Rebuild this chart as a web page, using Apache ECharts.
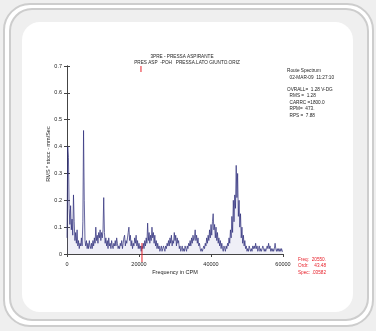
<!DOCTYPE html>
<html>
<head>
<meta charset="utf-8">
<script src="https://cdn.jsdelivr.net/npm/echarts@6/dist/echarts.min.js"></script>
<style>
html,body{margin:0;padding:0;background:#efefef;}
#c{width:376px;height:331px;}
</style>
</head>
<body>
<div id="c"></div>
<script>
// ---- data ----
var freqStep = 200; // CPM between spectral lines
var amplitudes = [
  0.06,0.40,0.36,0.17,0.11,0.18,0.09,0.13,0.07,0.22,0.12,0.05,0.08,0.04,0.09,0.03,0.05,0.02,0.04,0.03,
  0.06,0.03,0.12,0.46,0.20,0.05,0.03,0.05,0.02,0.04,0.02,0.05,0.03,0.02,0.04,0.02,0.05,0.03,0.06,0.04,
  0.10,0.05,0.07,0.04,0.08,0.06,0.09,0.05,0.08,0.06,0.09,0.21,0.08,0.04,0.06,0.03,0.05,0.02,0.06,0.03,
  0.04,0.02,0.05,0.03,0.02,0.04,0.03,0.05,0.03,0.06,0.04,0.02,0.03,0.02,0.04,0.03,0.05,0.02,0.04,0.06,
  0.07,0.03,0.05,0.04,0.06,0.08,0.10,0.05,0.07,0.03,0.05,0.02,0.04,0.03,0.06,0.04,0.07,0.03,0.05,0.02,
  0.04,0.02,0.03,0.01,0.03,0.02,0.04,0.02,0.05,0.03,0.06,0.04,0.115,0.05,0.08,0.04,0.07,0.05,0.10,0.06,
  0.08,0.04,0.07,0.03,0.05,0.02,0.04,0.02,0.03,0.01,0.02,0.03,0.01,0.02,0.03,0.02,0.01,0.03,0.02,0.04,
  0.03,0.05,0.03,0.06,0.04,0.07,0.03,0.05,0.04,0.08,0.05,0.07,0.03,0.06,0.04,0.05,0.02,0.03,0.01,0.02,
  0.03,0.01,0.02,0.01,0.03,0.02,0.01,0.03,0.02,0.04,0.03,0.05,0.03,0.06,0.04,0.07,0.05,0.06,0.09,0.05,
  0.07,0.04,0.06,0.03,0.04,0.02,0.01,0.02,0.01,0.02,0.03,0.02,0.04,0.03,0.06,0.04,0.07,0.05,0.09,0.06,
  0.11,0.07,0.12,0.15,0.09,0.11,0.06,0.10,0.05,0.08,0.04,0.06,0.03,0.05,0.02,0.04,0.02,0.01,0.03,0.02,
  0.01,0.03,0.02,0.04,0.03,0.06,0.04,0.09,0.06,0.14,0.08,0.20,0.12,0.22,0.17,0.33,0.21,0.30,0.14,0.20,
  0.10,0.15,0.06,0.10,0.04,0.07,0.03,0.05,0.02,0.03,0.01,0.02,0.01,0.03,0.02,0.01,0.02,0.01,0.03,0.02,
  0.03,0.02,0.04,0.02,0.03,0.01,0.02,0.03,0.01,0.02,0.01,0.02,0.03,0.02,0.01,0.02,0.01,0.02,0.03,0.02,
  0.04,0.02,0.03,0.01,0.02,0.01,0.02,0.01,0.02,0.04,0.02,0.01,0.02,0.01,0.02,0.01,0.02,0.01,0.02,0.01,0.01
];
var xTicks = [0, 20000, 40000, 60000];
var yTicks = [0, 0.1, 0.2, 0.3, 0.4, 0.5, 0.6, 0.7];
var cursorFreq = 20550;
var titleLines = ['3PRE - PRESSA ASPIRANTE', 'PRES ASP  -POH   PRESSA.LATO GIUNTO.ORIZ'];
var infoLines = ['Route Spectrum', '  02-MAR-09  11:27:10', '', 'OVRALL=  1.28 V-DG', '  RMS =  1.28', '  CARRC =1800.0', '  RPM=  473.', '  RPS =  7.88'];
var cursorLabels = ['Freq:', 'Ordr:', 'Spec:'];
var cursorValues = ['20550.', '43.48', '.03582'];
var xName = 'Frequency in CPM';
var yName = 'RMS * stocc - mm/Sec';

// ---- build ----
var seriesData = amplitudes.map(function (v, i) { return [i * freqStep, v]; });
var FONT = '"Liberation Sans",Arial,sans-serif';
var txtColor = '#222';
var axisColor = '#444';
var SX = 0.78;

var chart = echarts.init(document.getElementById('c'), null, {renderer: 'canvas'});

var bgGraphics = [
  {type: 'rect', z: -10, silent: true, shape: {x: 4, y: 4, width: 369, height: 322, r: 26},
   style: {fill: '#ffffff', stroke: '#cdcdcd', lineWidth: 2}},
  {type: 'rect', z: -9, silent: true, shape: {x: 10, y: 9, width: 358, height: 311, r: 22},
   style: {fill: '#efefef', stroke: '#cdcdcd', lineWidth: 2}},
  {type: 'rect', z: -8, silent: true, shape: {x: 22, y: 22, width: 331, height: 290, r: 18},
   style: {fill: '#ffffff'}}
];

function txt(x, y, s, color, align) {
  return {type: 'text', z: 10, x: x, y: y, scaleX: SX, silent: true,
    style: {text: s, font: '6px ' + FONT, fill: color || txtColor, align: align || 'left', verticalAlign: 'top'}};
}

var textGraphics = [];
textGraphics.push(txt(182, 53, titleLines[0], null, 'center'));
textGraphics.push(txt(187, 59, titleLines[1], null, 'center'));
var infoY = [67, 74, 80, 86, 92, 99, 105, 112];
infoLines.forEach(function (t, k) {
  if (t) textGraphics.push(txt(287, infoY[k], t));
});
cursorLabels.forEach(function (lab, k) {
  var yy = 256 + k * 6.5;
  textGraphics.push(txt(298, yy, lab, '#e8202a'));
  textGraphics.push(txt(326, yy, cursorValues[k], '#e8202a', 'right'));
});

var option = {
  animation: false,
  backgroundColor: '#efefef',
  grid: {left: 67, top: 66, width: 216, height: 188, containLabel: false},
  xAxis: [{
    type: 'value', min: 0, max: 60000, interval: 20000, position: 'bottom',
    name: xName, nameLocation: 'middle', nameGap: 15, nameMoveOverlap: false,
    nameTextStyle: {fontFamily: FONT, fontSize: 5.5, color: txtColor},
    axisLine: {lineStyle: {color: axisColor, width: 1}},
    axisTick: {show: false},
    axisLabel: {fontFamily: FONT, fontSize: 5.5, color: txtColor, margin: 7,
      formatter: function (v) { return xTicks.indexOf(v) >= 0 ? String(v) : ''; }},
    splitLine: {show: false}
  }, {
    type: 'value', min: 0, max: 60000, interval: 20000, position: 'top',
    axisLine: {show: true, lineStyle: {color: axisColor, width: 1}},
    axisTick: {show: true, inside: true, length: 3, lineStyle: {color: axisColor}},
    axisLabel: {show: false}, splitLine: {show: false}
  }],
  yAxis: [{
    type: 'value', min: 0, max: 0.7, interval: 0.1, position: 'left',
    name: yName, nameLocation: 'middle', nameGap: 16, nameRotate: 90, nameMoveOverlap: false,
    nameTextStyle: {fontFamily: FONT, fontSize: 5.5, color: txtColor, padding: [0, 0, 0, 12]},
    axisLine: {show: true, lineStyle: {color: axisColor, width: 1}},
    axisTick: {show: true, length: 3, lineStyle: {color: axisColor}},
    axisLabel: {fontFamily: FONT, fontSize: 5.5, color: txtColor, margin: 5,
      formatter: function (v) { var r = Math.round(v * 10) / 10; return yTicks.indexOf(r) >= 0 ? (r === 0 ? '0' : r.toFixed(1)) : ''; }},
    splitLine: {show: false}
  }, {
    type: 'value', min: 0, max: 0.7, interval: 0.1, position: 'right',
    axisLine: {show: true, lineStyle: {color: axisColor, width: 1}},
    axisTick: {show: true, length: 3, lineStyle: {color: axisColor}},
    axisLabel: {show: false}, splitLine: {show: false}
  }],
  series: [{
    type: 'line', xAxisIndex: 0, yAxisIndex: 0,
    data: seriesData, showSymbol: false, symbol: 'none',
    lineStyle: {color: '#2a2a78', width: 0.7},
    areaStyle: {color: 'rgba(130,130,190,0.18)', origin: 'start'},
    clip: true
  }],
  graphic: bgGraphics.concat(textGraphics)
};
chart.setOption(option);

// cursor markers positioned through the axis scale
var xPix = chart.convertToPixel({xAxisIndex: 0}, cursorFreq);
var yTop = chart.convertToPixel({yAxisIndex: 0}, 0.7);
var yBot = chart.convertToPixel({yAxisIndex: 0}, 0);
chart.setOption({
  graphic: bgGraphics.concat(textGraphics).concat([
    {type: 'line', z: 20, silent: true, shape: {x1: xPix, y1: yTop, x2: xPix, y2: yTop + 6}, style: {stroke: '#e8202a', lineWidth: 1}},
    {type: 'line', z: 20, silent: true, shape: {x1: xPix + 1, y1: yBot - 11, x2: xPix + 1, y2: yBot + 8}, style: {stroke: '#e8202a', lineWidth: 1}}
  ])
});
</script>
</body>
</html>
